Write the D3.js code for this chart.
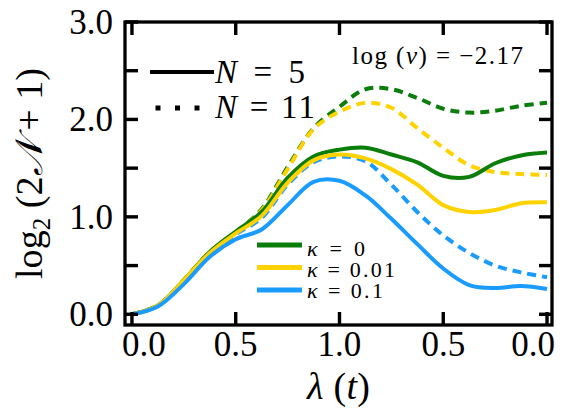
<!DOCTYPE html>
<html>
<head>
<meta charset="utf-8">
<script src="https://cdn.jsdelivr.net/npm/d3@7"></script>
<style>
  body { margin: 0; background: #fff; }
</style>
</head>
<body>
<div id="chart"></div>
<script>
// time grid (lambda goes 0 -> 1 -> 0)
const tGrid = [0, 0.25, 0.5, 0.75, 1, 1.25, 1.5, 1.75, 2, 2.25, 2.5, 2.75, 3, 3.25, 3.5, 3.75, 4];
const xTicks = [0, 1, 2, 3, 4];
const xTickLabels = ["0.0", "0.5", "1.0", "0.5", "0.0"];
const yTicks = [0, 0.5, 1, 1.5, 2, 2.5, 3];
const yTickLabels = ["0.0", "", "1.0", "", "2.0", "", "3.0"];

// N = 5 (solid)
const k0N5   = [0, 0.09, 0.35, 0.64, 0.85, 1.05, 1.40, 1.62, 1.69, 1.71, 1.64, 1.56, 1.42, 1.41, 1.55, 1.63, 1.66];
const k001N5 = [0, 0.09, 0.35, 0.63, 0.83, 1.01, 1.35, 1.58, 1.64, 1.60, 1.49, 1.33, 1.12, 1.05, 1.07, 1.14, 1.15];
const k01N5  = [0, 0.08, 0.31, 0.59, 0.77, 0.87, 1.12, 1.36, 1.37, 1.22, 0.98, 0.72, 0.47, 0.30, 0.27, 0.29, 0.26];

// N = 11 (dashed)
const k0N11   = [0, 0.09, 0.35, 0.64, 0.84, 1.08, 1.51, 1.91, 2.13, 2.31, 2.31, 2.22, 2.11, 2.07, 2.09, 2.14, 2.17];
const k001N11 = [0, 0.09, 0.35, 0.64, 0.84, 1.07, 1.49, 1.90, 2.08, 2.17, 2.12, 1.91, 1.71, 1.53, 1.46, 1.44, 1.43];
const k01N11  = [0, 0.09, 0.34, 0.62, 0.82, 0.99, 1.33, 1.56, 1.62, 1.57, 1.33, 1.05, 0.81, 0.63, 0.50, 0.43, 0.38];

const kappaLabels = ["0", "0.01", "0.1"];
const colors = ["#0b7d0b", "#ffd200", "#1a9bff"];
const nLabels = ["5", "11"];

const serif = "Liberation Serif";

let width = 583, height = 410;
let margin = { top: 22, bottom: 85, left: 125, right: 31 };

let svg = d3.select("#chart")
  .append("svg")
  .attr("width", width)
  .attr("height", height);

let x = d3.scaleLinear()
  .domain([-0.067, 4.048])
  .range([margin.left, width - margin.right]);

let y = d3.scaleLinear()
  .domain([-0.11, 3.0])
  .range([height - margin.bottom, margin.top]);

let line = d3.line()
  .x((d, i) => x(tGrid[i]))
  .y(d => y(d))
  .curve(d3.curveCatmullRom.alpha(0.5));

// dashed first, solid on top
const dashed = [k0N11, k001N11, k01N11];
const solid = [k0N5, k001N5, k01N5];

dashed.forEach((s, i) => {
  svg.append("path")
    .attr("d", line(s))
    .attr("fill", "none")
    .attr("stroke", colors[i])
    .attr("stroke-width", 4)
    .attr("stroke-dasharray", "9,6");
});

solid.forEach((s, i) => {
  svg.append("path")
    .attr("d", line(s))
    .attr("fill", "none")
    .attr("stroke", colors[i])
    .attr("stroke-width", 4);
});

let x0 = margin.left, x1 = width - margin.right;
let y0 = height - margin.bottom, y1 = margin.top;

// frame
svg.append("rect")
  .attr("x", x0)
  .attr("y", y1)
  .attr("width", x1 - x0)
  .attr("height", y0 - y1)
  .attr("fill", "none")
  .attr("stroke", "#000")
  .attr("stroke-width", 3.3);

// ticks pointing inward on all four sides
let tickLen = 13, tickW = 3.4;
xTicks.forEach(t => {
  svg.append("rect")
    .attr("x", x(t) - tickW / 2).attr("y", y0 - tickLen)
    .attr("width", tickW).attr("height", tickLen)
    .attr("fill", "#000");
  svg.append("rect")
    .attr("x", x(t) - tickW / 2).attr("y", y1)
    .attr("width", tickW).attr("height", tickLen)
    .attr("fill", "#000");
});
yTicks.forEach(v => {
  svg.append("rect")
    .attr("x", x0).attr("y", y(v) - tickW / 2)
    .attr("width", tickLen).attr("height", tickW)
    .attr("fill", "#000");
  svg.append("rect")
    .attr("x", x1 - tickLen).attr("y", y(v) - tickW / 2)
    .attr("width", tickLen).attr("height", tickW)
    .attr("fill", "#000");
});

// tick labels
xTicks.forEach((t, i) => {
  svg.append("text")
    .attr("x", x(t) + (i === 0 ? 12 : (i === 4 ? -14 : 0)))
    .attr("y", 356)
    .attr("text-anchor", "middle")
    .attr("font-family", serif)
    .attr("font-size", 35)
    .text(xTickLabels[i]);
});

yTicks.forEach((v, i) => {
  if (!yTickLabels[i]) return;
  svg.append("text")
    .attr("x", x0 - 12)
    .attr("y", y(v))
    .attr("dy", "0.34em")
    .attr("text-anchor", "end")
    .attr("font-family", serif)
    .attr("font-size", 35)
    .text(yTickLabels[i]);
});

// axis labels
svg.append("text")
  .attr("x", 307)
  .attr("y", 399)
  .attr("font-family", serif)
  .attr("font-size", 38)
  .attr("textLength", 63)
  .attr("lengthAdjust", "spacing")
  .html('<tspan font-style="italic">λ</tspan> (<tspan font-style="italic">t</tspan>)');

svg.append("text")
  .attr("transform", `translate(42,279) rotate(-90)`)
  .attr("font-family", serif)
  .attr("font-size", 38)
  .attr("textLength", 211)
  .attr("lengthAdjust", "spacing")
  .html('log<tspan font-size="25" dy="8">2</tspan><tspan dy="-8"> (2</tspan><tspan font-family="DejaVu Sans" font-style="italic">𝒩</tspan> + 1)');

// annotation
svg.append("text")
  .attr("x", 352)
  .attr("y", 64)
  .attr("font-family", serif)
  .attr("font-size", 25)
  .attr("textLength", 171)
  .attr("lengthAdjust", "spacing")
  .html('log (<tspan font-style="italic">v</tspan>) = −2.17');

// N legend
const nTextLen = [90, 100];
let nLegend = svg.append("g");
nLegend.append("line")
  .attr("x1", 150).attr("x2", 214)
  .attr("y1", 72).attr("y2", 72)
  .attr("stroke", "#000").attr("stroke-width", 4);
nLegend.append("line")
  .attr("x1", 155.5).attr("x2", 205)
  .attr("y1", 108).attr("y2", 108)
  .attr("stroke", "#000").attr("stroke-width", 5)
  .attr("stroke-dasharray", "5,14.5");
nLabels.forEach((n, i) => {
  nLegend.append("text")
    .attr("x", 215)
    .attr("y", 83 + i * 35)
    .attr("font-family", serif)
    .attr("font-size", 33)
    .attr("textLength", nTextLen[i])
    .attr("lengthAdjust", "spacing")
    .html(`<tspan font-style="italic">N</tspan> = ${n}`);
});

// kappa legend
const kTextLen = [58, 88, 76];
let kLegend = svg.append("g");
kappaLabels.forEach((k, i) => {
  kLegend.append("line")
    .attr("x1", 257).attr("x2", 302)
    .attr("y1", 245 + i * 22.5).attr("y2", 245 + i * 22.5)
    .attr("stroke", colors[i]).attr("stroke-width", 5);
  kLegend.append("text")
    .attr("x", 307)
    .attr("y", 255.5 + i * 21.2)
    .attr("font-family", serif)
    .attr("font-size", 22)
    .attr("textLength", kTextLen[i])
    .attr("lengthAdjust", "spacing")
    .html(`<tspan font-style="italic">κ</tspan> = ${k}`);
});
</script>
</body>
</html>
